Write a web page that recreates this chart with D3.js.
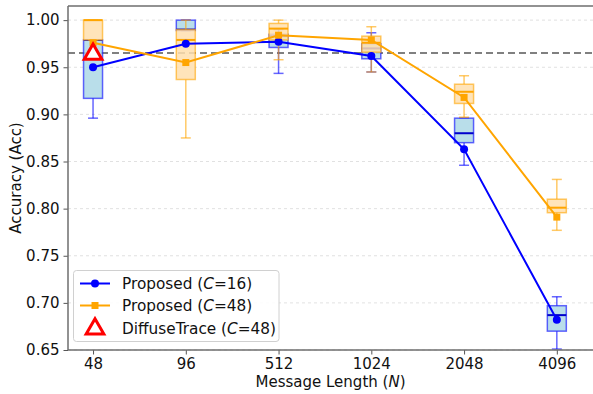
<!DOCTYPE html>
<html><head><meta charset="utf-8">
<script src="https://cdn.jsdelivr.net/npm/d3@7"></script>
<style>body{margin:0;background:#fff;} svg{display:block;font-family:"DejaVu Sans",sans-serif;}</style>
</head><body><svg id="c" width="593" height="394"></svg>
<script>
const categories = ["48","96","512","1024","2048","4096"];
const yTicks = [0.65,0.70,0.75,0.80,0.85,0.90,0.95,1.00];
// box stats: [whiskerLow, q1, median, q3, whiskerHigh]
const boxC16 = [
  [0.896,0.917,0.979,0.979,0.979],
  [0.989,0.989,0.990,1.000,1.000],
  [0.9435,0.971,0.983,0.985,0.990],
  [0.945,0.959,0.970,0.975,0.9866],
  [0.846,0.870,0.880,0.896,0.896],
  [0.651,0.670,0.687,0.697,0.7065]
];
const meanC16 = [0.950,0.975,0.977,0.962,0.863,0.682];
const boxC48 = [
  [0.979,0.979,1.000,1.000,1.000],
  [0.875,0.937,0.979,0.990,1.000],
  [0.958,0.979,0.991,0.9965,1.000],
  [0.945,0.966,0.976,0.983,0.993],
  [0.897,0.9116,0.924,0.932,0.941],
  [0.777,0.7957,0.801,0.810,0.831]
];
const meanC48 = [0.976,0.955,0.984,0.979,0.918,0.791];
const diffuseTrace = [{cat:"48", value:0.965}];
const refLine = 0.965;

const svg = d3.select("#c");
const L=68, R=593, T=6, B=350;
const x = d3.scaleLinear().domain([-0.27,5.39]).range([L,R]);
const y = d3.scaleLinear().domain([0.65,1.015]).range([B,T]);
const xi = c => x(categories.indexOf(c));

// grid
svg.append("g").selectAll("line").data(yTicks).join("line")
  .attr("x1",L).attr("x2",R).attr("y1",d=>y(d)).attr("y2",d=>y(d))
  .attr("stroke","#d9d9d9").attr("stroke-width",0.8).attr("stroke-dasharray","3,3");

// reference dashed line
svg.append("line").attr("x1",L).attr("x2",R).attr("y1",y(refLine)).attr("y2",y(refLine))
  .attr("stroke","#808080").attr("stroke-width",2).attr("stroke-dasharray","7,4");

const bw = 19, cw = 10;
function drawBoxes(stats, fill, edge, med){
  const g = svg.append("g");
  stats.forEach((s,i)=>{
    const cx = x(i);
    const gg = g.append("g");
    gg.append("line").attr("x1",cx).attr("x2",cx).attr("y1",y(s[0])).attr("y2",y(s[1]))
      .attr("stroke",edge).attr("stroke-opacity",0.6).attr("stroke-width",1.5);
    gg.append("line").attr("x1",cx).attr("x2",cx).attr("y1",y(s[3])).attr("y2",y(s[4]))
      .attr("stroke",edge).attr("stroke-opacity",0.6).attr("stroke-width",1.5);
    [s[0],s[4]].forEach(v=>gg.append("line").attr("x1",cx-cw/2).attr("x2",cx+cw/2)
      .attr("y1",y(v)).attr("y2",y(v)).attr("stroke",edge).attr("stroke-opacity",0.6).attr("stroke-width",1.5));
    gg.append("rect").attr("x",cx-bw/2).attr("width",bw).attr("y",y(s[3])).attr("height",Math.max(0.5,y(s[1])-y(s[3])))
      .attr("fill",fill).attr("fill-opacity",0.85).attr("stroke",edge).attr("stroke-opacity",0.6).attr("stroke-width",1.5);
    gg.append("line").attr("x1",cx-bw/2).attr("x2",cx+bw/2).attr("y1",y(s[2])).attr("y2",y(s[2]))
      .attr("stroke",med).attr("stroke-width",2);
  });
}
drawBoxes(boxC16,"#add8e6","#0000ff","#0000cc");
drawBoxes(boxC48,"#ffdfae","#ffa500","#ffa500");

// lines
const line = d3.line().x((d,i)=>x(i)).y(d=>y(d));
svg.append("path").datum(meanC16).attr("d",line).attr("fill","none").attr("stroke","#0000ff").attr("stroke-width",2);
svg.append("g").selectAll("circle").data(meanC16).join("circle")
  .attr("cx",(d,i)=>x(i)).attr("cy",d=>y(d)).attr("r",4).attr("fill","#0000ff");
svg.append("path").datum(meanC48).attr("d",line).attr("fill","none").attr("stroke","#ffa500").attr("stroke-width",2);
svg.append("g").selectAll("rect").data(meanC48).join("rect")
  .attr("x",(d,i)=>x(i)-3.5).attr("y",d=>y(d)-3.5).attr("width",7).attr("height",7).attr("fill","#ffa500");

// triangle marker
const tri = d3.symbol().type(d3.symbolTriangle).size(135);
svg.append("g").selectAll("path").data(diffuseTrace).join("path")
  .attr("d",tri).attr("transform",d=>`translate(${xi(d.cat)},${y(d.value)+1})`)
  .attr("fill","white").attr("stroke","#ff0000").attr("stroke-width",3);

// axes
const ya = d3.axisLeft(y).tickValues(yTicks).tickFormat(d3.format(".2f")).tickSize(4.5).tickPadding(4);
const gy = svg.append("g").attr("transform",`translate(${L},0)`).call(ya);
const xa = d3.axisBottom(x).tickValues(d3.range(categories.length)).tickFormat(i=>categories[i]).tickSize(4.5).tickPadding(4);
const gx = svg.append("g").attr("transform",`translate(0,${B})`).call(xa);
[gy,gx].forEach(g=>{
  g.select(".domain").remove();
  g.selectAll(".tick line").attr("stroke","#555").attr("stroke-width",1);
  g.selectAll(".tick text").attr("font-size",15).attr("fill","#111").attr("font-family","DejaVu Sans");
});
// spines
svg.append("line").attr("x1",L).attr("x2",L).attr("y1",T).attr("y2",B).attr("stroke","#6e6e6e").attr("stroke-width",1.5);
svg.append("line").attr("x1",L).attr("x2",R).attr("y1",B).attr("y2",B).attr("stroke","#6e6e6e").attr("stroke-width",1.5);
svg.append("line").attr("x1",L).attr("x2",R).attr("y1",T).attr("y2",T).attr("stroke","#6e6e6e").attr("stroke-width",1.5);

// axis labels
const yl = svg.append("text").attr("transform",`translate(21,${(T+B)/2}) rotate(-90)`).attr("text-anchor","middle")
  .attr("font-size",15).attr("fill","#111");
yl.text("Accuracy (Acc)");
const xl = svg.append("text").attr("x",(L+R)/2).attr("y",387).attr("text-anchor","middle").attr("font-size",15).attr("fill","#111");
xl.append("tspan").text("Message Length (");
xl.append("tspan").attr("font-style","italic").text("N");
xl.append("tspan").text(")");

// legend
const lg = svg.append("g");
lg.append("rect").attr("x",73.5).attr("y",270.5).attr("width",205.5).attr("height",71).attr("rx",3)
  .attr("fill","white").attr("fill-opacity",0.85).attr("stroke","#d0d0d0").attr("stroke-width",1);
const rows = [
  {label:"16", color:"#0000ff", kind:"circle", yy:283.5},
  {label:"48", color:"#ffa500", kind:"square", yy:305.5},
  {label:"48", color:"#ff0000", kind:"tri", yy:328},
];
rows.forEach((r,i)=>{
  if(r.kind!=="tri"){
    lg.append("line").attr("x1",80).attr("x2",110).attr("y1",r.yy).attr("y2",r.yy).attr("stroke",r.color).attr("stroke-width",2);
    if(r.kind==="circle") lg.append("circle").attr("cx",95).attr("cy",r.yy).attr("r",4).attr("fill",r.color);
    else lg.append("rect").attr("x",91.5).attr("y",r.yy-3.5).attr("width",7).attr("height",7).attr("fill",r.color);
  } else {
    lg.append("path").attr("d",tri).attr("transform",`translate(95,${r.yy+1})`).attr("fill","white").attr("stroke",r.color).attr("stroke-width",3);
  }
  const t = lg.append("text").attr("x",122).attr("y",r.yy+5.5).attr("font-size",15.3).attr("fill","#111");
  t.append("tspan").text(i<2?"Proposed (":"DiffuseTrace (");
  t.append("tspan").attr("font-style","italic").text("C");
  t.append("tspan").text("="+r.label+")");
});
</script></body></html>
